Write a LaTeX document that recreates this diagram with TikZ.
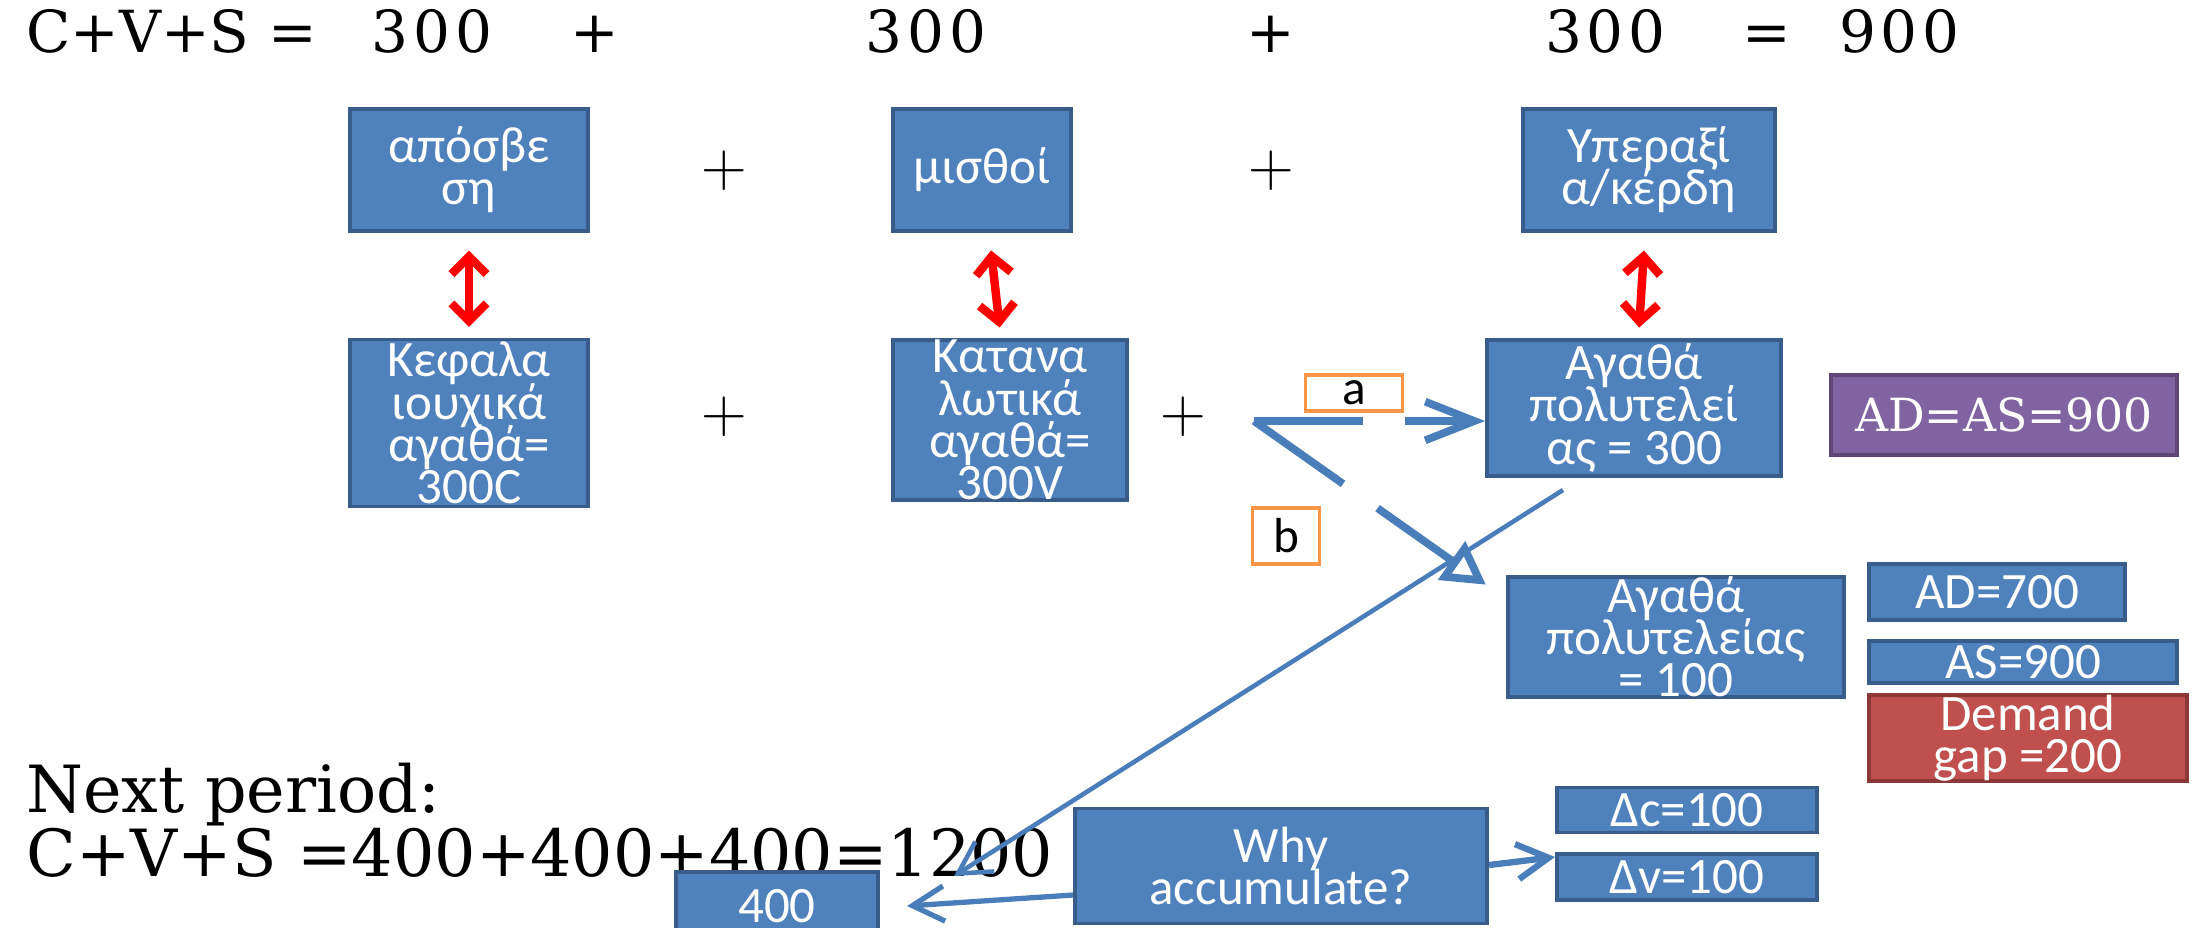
\documentclass[tikz,border=0pt]{standalone}
\usepackage{fontspec}
\usetikzlibrary{arrows.meta}
\newfontfamily\boxfont{Carlito}
\newfontfamily\sumfont{DejaVu Serif}
\newcommand\boxtext{\boxfont\fontsize{14.5}{12}\selectfont\setlength{\lineskiplimit}{-20pt}\setlength{\lineskip}{0pt}}
\definecolor{boxblue}{HTML}{4F81BD}
\definecolor{boxedge}{HTML}{385D8A}
\definecolor{lilac}{HTML}{8064A2}
\definecolor{lilacedge}{HTML}{5C4776}
\definecolor{brick}{HTML}{C0504D}
\definecolor{brickedge}{HTML}{8C3836}
\definecolor{tagline}{HTML}{F79646}
\definecolor{flow}{HTML}{4A7EBB}

\begin{document}
\begin{tikzpicture}[x=0.01cm,y=-0.01cm,
  box/.style={draw=boxedge,fill=boxblue,line width=1.1pt,text=white,align=center,inner sep=0pt,font=\boxtext},
  tagbox/.style={draw=tagline,line width=1.1pt,fill=white,inner sep=0pt,font=\boxfont\fontsize{14}{14}\selectfont},
  twoway/.style={{Straight Barb[length=5pt,width=10pt]}-{Straight Barb[length=5pt,width=10pt]},
    red,line width=2.4pt,shorten <=5pt,shorten >=3pt},
  dasharrow/.style={flow,line width=2.2pt,dash pattern=on 31pt off 12pt},
  thinarrow/.style={-{Straight Barb[length=9pt,width=10pt]},flow,line width=1.3pt},
  sum/.style={font=\sumfont\fontsize{16.5}{18}\selectfont,anchor=base},
  wide/.style={font=\sumfont\fontsize{16.5}{18}\selectfont\addfontfeature{LetterSpace=8},anchor=base},
  plus/.style={font=\fontsize{18}{18}\selectfont},
  big/.style={font=\sumfont\fontsize{18.5}{22}\selectfont,anchor=base west}]
\clip (0,0) rectangle (2195,927);

% top line
\node[sum,anchor=base west] (cvs) at (14,52) {C+V+S =};
\node[wide] (n1) at (432,52) {300};
\node[sum] (p1) at (595,52) {+};
\node[wide] (n2) at (926,52) {300};
\node[sum] (p2) at (1271,52) {+};
\node[wide] (n3) at (1605,52) {300};
\node[sum] (eq) at (1767,52) {=};
\node[wide] (n4) at (1899,52) {900};

% upper row
\node[box,minimum width=2.38cm,minimum height=1.22cm] (amort) at (469,170) {απόσβε\\ση};
\node[box,minimum width=1.78cm,minimum height=1.22cm] (wages) at (982,170) {μισθοί};
\node[box,minimum width=2.52cm,minimum height=1.22cm] (surplus) at (1649,170) {Υπεραξί\\α/κέρδη};
\node[plus] (pa) at (724,171) {+};
\node[plus] (pb) at (1271,171) {+};

% lower row
\node[box,minimum width=2.38cm,minimum height=1.67cm] (capgoods) at (469,423) {Κεφαλα\\ιουχικά\\αγαθά=\\300C};
\node[box,minimum width=2.34cm,minimum height=1.60cm] (congoods) at (1010,420) {Κατανα\\λωτικά\\αγαθά=\\300V};
\node[box,minimum width=2.94cm,minimum height=1.36cm] (lux300) at (1634,408) {Αγαθά\\πολυτελεί\\ας = 300};
\node[plus] (pc) at (724,417) {+};
\node[plus] (pd) at (1183,417) {+};

\draw[twoway] (amort) -- (capgoods);
\draw[twoway] (wages) -- (congoods);
\draw[twoway] (surplus) -- (lux300);

\node[box,draw=lilacedge,fill=lilac,minimum width=3.46cm,minimum height=0.80cm,
  font=\sumfont\fontsize{13}{13}\selectfont] (adas) at (2004,415) {AD=AS=900};

\node[box,minimum width=3.36cm,minimum height=1.20cm] (lux100) at (1676,637) {Αγαθά\\πολυτελείας\\= 100};
\node[box,minimum width=2.56cm,minimum height=0.56cm] (ad700) at (1997,592) {AD=700};
\node[box,minimum width=3.08cm,minimum height=0.42cm] (as900) at (2023,662) {AS=900};
\node[box,draw=brickedge,fill=brick,minimum width=3.18cm,minimum height=0.77cm] (gap) at (2028,738) {Demand\\gap =200};

% the two cases
\node[tagbox,minimum width=0.97cm,minimum height=0.36cm] (taga) at (1354,393) {a};
\node[tagbox,minimum width=0.67cm,minimum height=0.56cm] (tagb) at (1286,536) {b};
\coordinate (fork) at (1254,421);
\draw[dasharrow,-{Straight Barb[length=14pt,width=11pt]}] (fork) -- (fork -| lux300.west);
\draw[dasharrow,-{Triangle[open,length=12pt,width=13pt]}] (fork) -- ([shift={(-20,10)}]lux100.north west);

% next period
\node[big] (next) at (14,812) {Next period:};
\node[big] (cvs2) at (14,876) {C+V+S =400+400+400=1200};

\node[box,minimum width=2.02cm,minimum height=0.68cm] (acc) at (777,906) {400};
\node[box,minimum width=4.12cm,minimum height=1.15cm] (why) at (1281,866) {Why\\accumulate?};
\node[box,minimum width=2.60cm,minimum height=0.45cm] (dc) at (1687,810) {Δc=100};
\node[box,minimum width=2.60cm,minimum height=0.46cm] (dv) at (1687,877) {Δv=100};

\draw[thinarrow] ([shift={(-71,12)}]lux300.south) -- ([shift={(74,6)}]acc.north east);
\draw[thinarrow,line width=1.5pt] ([shift={(0,29)}]why.west) -- ([shift={(27,0)}]acc.east);
\draw[thinarrow,line width=1.8pt] ([shift={(0,-1)}]why.east) -- ([shift={(0,-20)}]dv.west);
\end{tikzpicture}
\end{document}
